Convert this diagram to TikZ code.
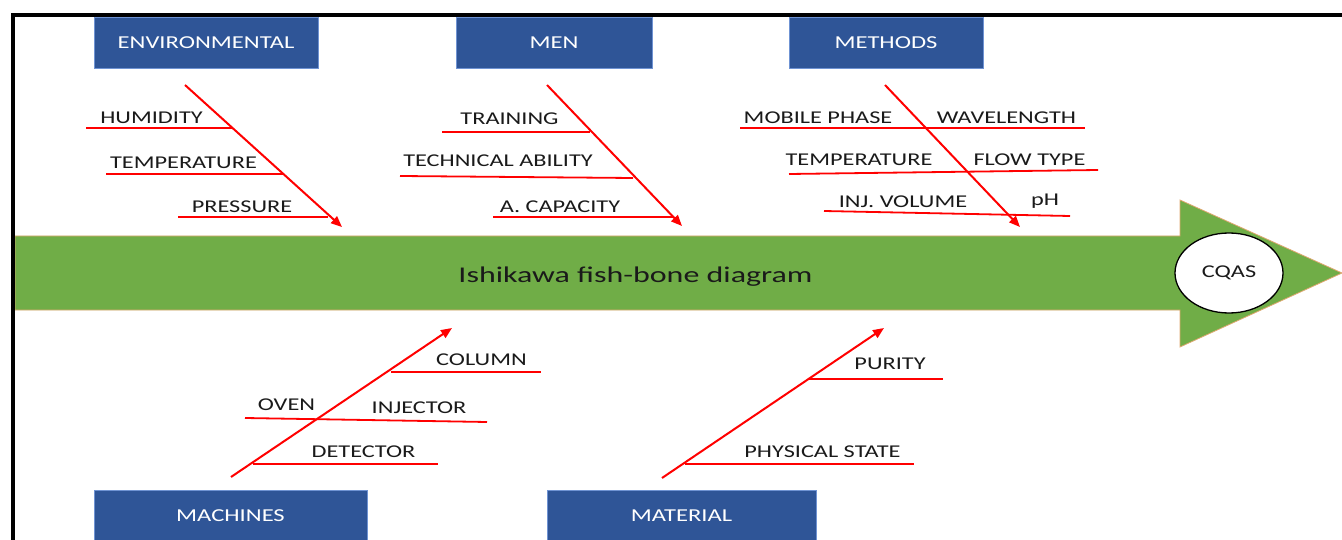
\documentclass[tikz,border=0pt]{standalone}
\usepackage{fontspec}
\setmainfont{Carlito}
\newfontfamily\lblfont{Carlito}[FakeStretch=1.35]
\newfontfamily\titlefont{Carlito}[FakeStretch=1.42]
\usetikzlibrary{arrows.meta,shapes.geometric}
\definecolor{boxblue}{HTML}{2F5597}
\definecolor{boxedge}{HTML}{6F93D3}
\definecolor{fishgreen}{HTML}{70AD47}
\definecolor{fishedge}{HTML}{E0A870}
\definecolor{bone}{HTML}{FF0000}
\definecolor{txt}{HTML}{1A1A1A}
\begin{document}
\begin{tikzpicture}[x=1pt,y=-1pt,
  catbox/.style={fill=boxblue, draw=boxedge, line width=0.8pt, text=white,
    font=\lblfont\fontsize{18.2}{20}\selectfont, inner sep=0pt, minimum height=51pt},
  lbl/.style={anchor=base, text=txt, font=\lblfont\fontsize{18}{20}\selectfont, inner sep=0pt},
  mainbone/.style={draw=bone, line width=2pt, -{Triangle[length=11pt,width=9pt]}},
  subbone/.style={draw=bone, line width=1.8pt},
]
\useasboundingbox (0,0) rectangle (1342,540);
\clip (0,0) rectangle (1342,540);
\fill[white] (0,0) rectangle (1342,540);

% spine
\filldraw[fill=fishgreen, draw=fishedge, line width=0.8pt]
  (15,236) -- (1180,236) -- (1180,200) -- (1342,273) -- (1180,347) -- (1180,310) -- (15,310) -- cycle;
\node[anchor=base, text=txt, font=\titlefont\fontsize{22.5}{26}\selectfont, inner sep=0pt]
  (title) at (635.5,283) {Ishikawa fish-bone diagram};
\node[ellipse, draw=black, fill=white, line width=1.3pt, minimum width=108pt, minimum height=80pt,
  inner sep=0pt, text=txt, font=\lblfont\fontsize{18}{20}\selectfont] (cqas) at (1229,273) {CQAS};

% category boxes
\node[catbox, minimum width=224pt] (env) at (206,42.5) {ENVIRONMENTAL};
\node[catbox, minimum width=196pt] (men) at (554,42.5) {MEN};
\node[catbox, minimum width=194pt] (meth) at (886,42.5) {METHODS};
\node[catbox, minimum width=273pt] (mach) at (230.5,515.5) {MACHINES};
\node[catbox, minimum width=269pt] (mat) at (681.5,515.5) {MATERIAL};

% coordinates for bones
\coordinate (envS) at (185,85);   \coordinate (envE) at (342,227);
\coordinate (menS) at (547,85);   \coordinate (menE) at (682,226);
\coordinate (metS) at (885,85);   \coordinate (metE) at (1020,227);
\coordinate (macS) at (231,477);  \coordinate (macE) at (452,328);
\coordinate (matS) at (662,478);  \coordinate (matE) at (884,328);

\coordinate (e1a) at (86,128);  \coordinate (e1b) at (233,128);
\coordinate (e2a) at (106,174); \coordinate (e2b) at (283,174);
\coordinate (e3a) at (178,217); \coordinate (e3b) at (328,217);

\coordinate (m1a) at (442,132); \coordinate (m1b) at (590,132);
\coordinate (m2a) at (400,176); \coordinate (m2b) at (633,178);
\coordinate (m3a) at (493,217); \coordinate (m3b) at (673,217);

\coordinate (t1a) at (740,128); \coordinate (t1b) at (1085,128);
\coordinate (t2a) at (789,174); \coordinate (t2b) at (1098,170);
\coordinate (t3a) at (824,211); \coordinate (t3b) at (1070,216);

\coordinate (c1a) at (391,372); \coordinate (c1b) at (541,372);
\coordinate (c2a) at (245,418); \coordinate (c2b) at (487,422);
\coordinate (c3a) at (253,464); \coordinate (c3b) at (438,464);

\coordinate (p1a) at (809,379); \coordinate (p1b) at (943,379);
\coordinate (p2a) at (685,464); \coordinate (p2b) at (914,464);

% sub bones
\foreach \a/\b in {e1a/e1b,e2a/e2b,e3a/e3b,m1a/m1b,m2a/m2b,m3a/m3b,
                   t1a/t1b,t2a/t2b,t3a/t3b,c1a/c1b,c2a/c2b,c3a/c3b,p1a/p1b,p2a/p2b}
  \draw[subbone] (\a) -- (\b);

% main bones
\draw[mainbone] (envS) -- (envE);
\draw[mainbone] (menS) -- (menE);
\draw[mainbone] (metS) -- (metE);
\draw[mainbone] (macS) -- (macE);
\draw[mainbone] (matS) -- (matE);

% labels
\node[lbl] (hum)  at (151.5,124) {HUMIDITY};
\node[lbl] (temp) at (183.5,169) {TEMPERATURE};
\node[lbl] (pres) at (242,213) {PRESSURE};
\node[lbl] (trn)  at (509.5,125) {TRAINING};
\node[lbl] (tech) at (498,167) {TECHNICAL ABILITY};
\node[lbl] (acap) at (560,213) {A. CAPACITY};
\node[lbl] (mob)  at (818,124) {MOBILE PHASE};
\node[lbl] (wave) at (1006.5,124) {WAVELENGTH};
\node[lbl] (temm) at (859,166) {TEMPERATURE};
\node[lbl] (flow) at (1029.5,166) {FLOW TYPE};
\node[lbl] (inj)  at (903,208) {INJ. VOLUME};
\node[lbl] (ph)   at (1045,206) {pH};
\node[lbl] (col)  at (481.5,365) {COLUMN};
\node[lbl] (oven) at (286.5,410) {OVEN};
\node[lbl] (injr) at (419,413) {INJECTOR};
\node[lbl] (det)  at (363.5,457) {DETECTOR};
\node[lbl] (pur)  at (890,369) {PURITY};
\node[lbl] (phys) at (822.5,457) {PHYSICAL STATE};

% frame
\draw[line width=4pt, black, line join=miter] (13,540) -- (13,15) -- (1342,15);
\end{tikzpicture}
\end{document}
